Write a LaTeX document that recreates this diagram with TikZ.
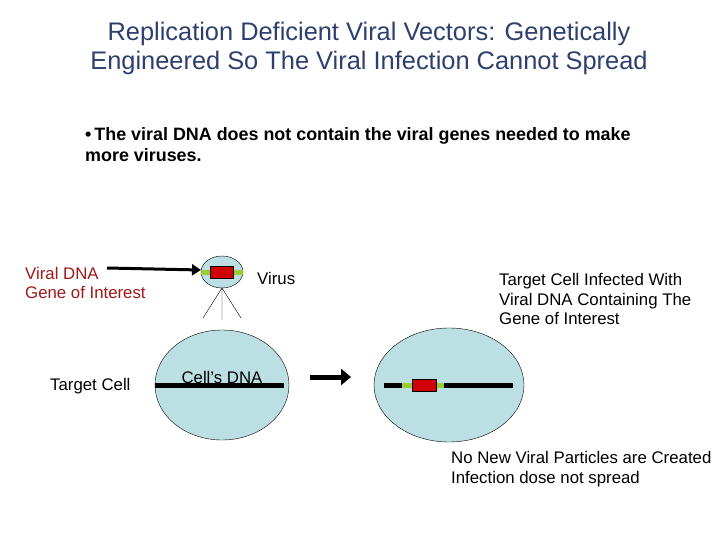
\documentclass[tikz,border=0pt]{standalone}
\usepackage{fontspec}
\setmainfont{Liberation Sans}
\usetikzlibrary{arrows.meta}
\definecolor{titc}{HTML}{2E3F6E}
\definecolor{cellc}{HTML}{BCDFE4}
\definecolor{dnared}{HTML}{A01818}
\definecolor{geneg}{HTML}{9ACD32}
\definecolor{boxred}{HTML}{D00000}
\tikzset{x=1pt,y=-1pt,
 lbl/.style={anchor=west,inner sep=0,font=\fontsize{16.8}{19.5}\selectfont,align=left},
 cell/.style={draw=black,fill=cellc},
 dna/.style={line width=5pt,black},
 grn/.style={line width=5pt,geneg},
 gene/.style={draw=black,fill=boxred,line width=0.5pt}}
\begin{document}
\begin{tikzpicture}
\useasboundingbox (0,0) rectangle (720,540);
\node[font=\fontsize{25.4}{29}\selectfont,text=titc,align=center] (title) at (369,48) {Replication Deficient Viral Vectors: Genetically\\Engineered So The Viral Infection Cannot Spread};
\node[lbl,font=\bfseries\fontsize{17.9}{21}\selectfont,anchor=west] (bul) at (85,145) {\textbullet\,The viral DNA does not contain the viral genes needed to make\\more viruses.};
% virus
\draw[cell] (222,272) ellipse (21 and 16);
\draw[grn] (201,272) -- (243,272);
\draw[gene] (210,266) rectangle (233,278);
\coordinate (vb) at (222,288);
\coordinate (t1) at (203,318);\coordinate (t2) at (222,320);\coordinate (t3) at (241,318);
\draw (vb)--(t1) (vb)--(t2) (vb)--(t3);
\coordinate (vir) at (201,270);
\node[lbl] (virus) at (257,278) {Virus};
\node[lbl,text=dnared] (vdna) at (25,273) {Viral DNA};
\node[lbl,text=dnared] (goi) at (25,293) {Gene of Interest};
\coordinate (as) at (107,268);
\draw[line width=3pt,-{Triangle[length=9pt,width=11pt]}] (as) -- (vir);
% left cell
\draw[cell] (222,385) ellipse (67 and 55);
\draw[dna] (155,385) -- (284,385);
\node[inner sep=0,font=\fontsize{16.8}{18}\selectfont] (cdna) at (222,377) {Cell’s DNA};
\node[lbl] (tc) at (50,386) {Target Cell};
\coordinate (a1) at (310,377);\coordinate (a2) at (351,377);
\draw[line width=5pt,-{Triangle[length=10pt,width=16pt]}] (a1) -- (a2);
% right cell
\draw[cell] (449,385) ellipse (75 and 57);
\draw[dna] (384,385) -- (513,385);
\draw[grn] (402,385) -- (444,385);
\draw[gene] (412,379) rectangle (436,391);
\node[lbl] (rt) at (499,299) {Target Cell Infected With\\Viral DNA Containing The\\Gene of Interest};
\node[lbl] (bt) at (451,469) {No New Viral Particles are Created\\Infection dose not spread};
\end{tikzpicture}
\end{document}
